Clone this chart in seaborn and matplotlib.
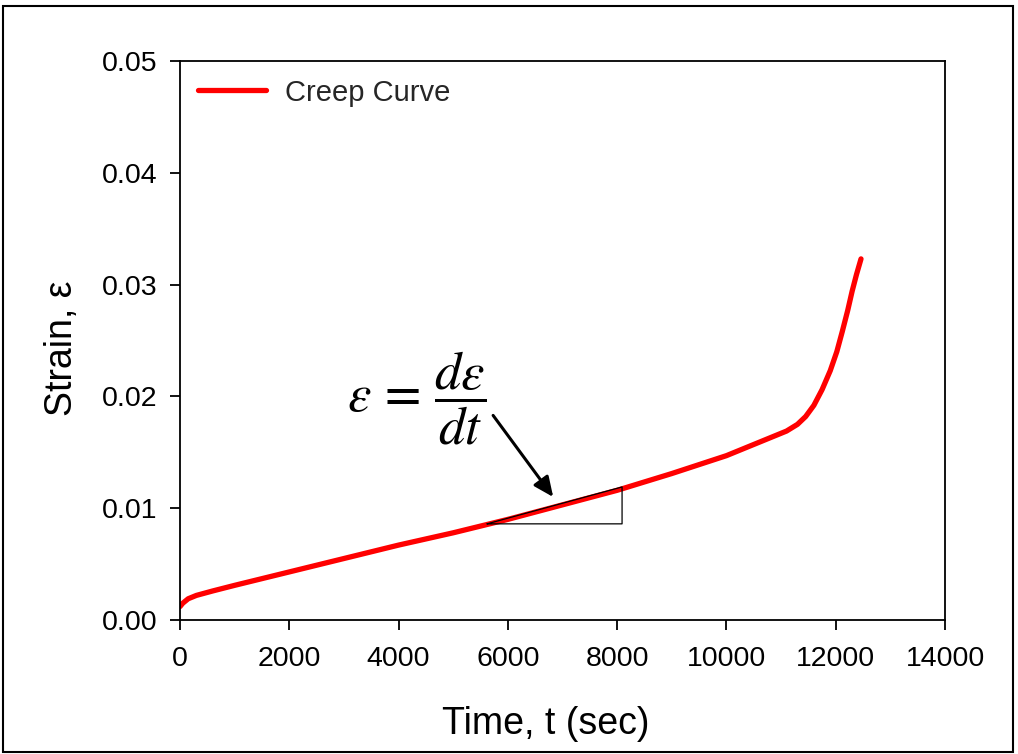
import matplotlib
matplotlib.use("Agg")
import matplotlib.pyplot as plt
import seaborn as sns
import pandas as pd
from matplotlib.patches import Rectangle

# Creep test: strain vs. time
time_s = [0, 50, 150, 300, 600, 1000, 2000, 3000, 4000, 5000, 6000, 7000,
          8000, 9000, 10000, 10500, 11100, 11300, 11450, 11600, 11750, 11900,
          12020, 12120, 12220, 12300, 12380, 12463]
strain = [0.0012, 0.0015, 0.0019, 0.0022, 0.0026, 0.0031, 0.0043, 0.0055,
          0.0067, 0.0078, 0.0090, 0.0103, 0.0116, 0.0131, 0.0147, 0.0157,
          0.0169, 0.0175, 0.0182, 0.0192, 0.0206, 0.0223, 0.0240, 0.0258,
          0.0277, 0.0294, 0.0309, 0.0323]

# Slope triangle on the secondary (steady-state) region
tri_t = [5620, 8090]
tri_e = [0.0086, 0.0119]

# Arrow from the rate equation to the slope
arrow_tail = (5730, 0.0183)
arrow_head = (6830, 0.0110)

x_ticks = [0, 2000, 4000, 6000, 8000, 10000, 12000, 14000]
y_ticks = [0.00, 0.01, 0.02, 0.03, 0.04, 0.05]

sns.set_theme(style="white")
plt.rcParams["font.family"] = ["Liberation Sans", "DejaVu Sans"]
plt.rcParams["mathtext.fontset"] = "stix"

df = pd.DataFrame({"Time": time_s, "Strain": strain})

fig = plt.figure(figsize=(10.18, 7.54), dpi=100)
ax = fig.add_axes([180 / 1018, 1 - 620 / 754, (945 - 180) / 1018, (620 - 61) / 754])

sns.lineplot(data=df, x="Time", y="Strain", ax=ax, color="#ff0000",
             linewidth=3.8, label="Creep Curve", sort=False)

# slope triangle
ax.plot([tri_t[0], tri_t[1], tri_t[1], tri_t[0]],
        [tri_e[0], tri_e[1], tri_e[0], tri_e[0]],
        color="black", linewidth=0.9, zorder=3)

ax.annotate("", xy=arrow_head, xytext=arrow_tail,
            arrowprops=dict(arrowstyle="-|>,head_length=1.0,head_width=0.45",
                            color="black", lw=2.2, shrinkA=0, shrinkB=0))

ax.text(4330, 0.0198, r"$\varepsilon\,=\,\dfrac{d\varepsilon}{dt}$",
        fontsize=38, ha="center", va="center", color="black")

ax.set_xlim(0, 14000)
ax.set_ylim(0, 0.05)
ax.set_xticks(x_ticks)
ax.set_xticklabels([str(v) for v in x_ticks])
ax.set_yticks(y_ticks)
ax.set_yticklabels([f"{v:.2f}" for v in y_ticks])
ax.tick_params(axis="both", direction="out", length=7, width=1.3,
               labelsize=20.5, colors="black", pad=9)
ax.tick_params(axis="x", pad=12)
ax.tick_params(axis="both", bottom=True, left=True)

for sp in ax.spines.values():
    sp.set_color("black")
    sp.set_linewidth(1.3)

ax.set_xlabel("Time, t (sec)", fontsize=27, color="black")
ax.set_ylabel("Strain, ε", fontsize=27, color="black")
ax.xaxis.set_label_coords(0.478, -0.153)
ax.yaxis.set_label_coords(-0.131, 0.486)

leg = ax.legend(loc="upper left", frameon=False, fontsize=21,
                handlelength=2.35, borderaxespad=0.2, handletextpad=0.65)

# outer frame around the whole figure
fig.patches.append(Rectangle((3 / 1018, 2 / 754), 1010 / 1018, 746 / 754,
                             transform=fig.transFigure, fill=False,
                             edgecolor="black", linewidth=1.5))

fig.savefig("out.png", dpi=100)
